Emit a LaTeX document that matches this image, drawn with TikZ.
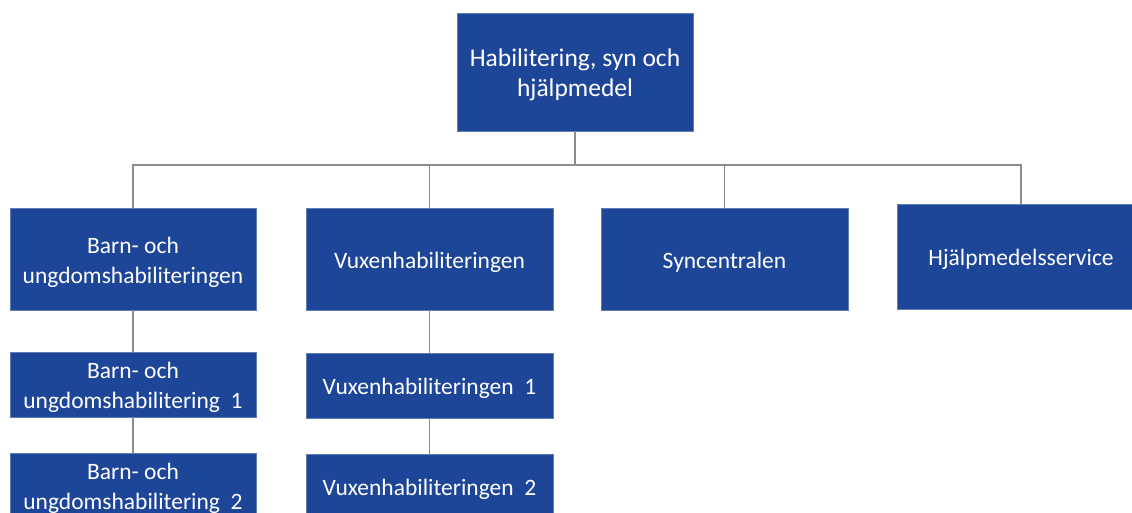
\documentclass[tikz,border=0pt]{standalone}
\usepackage{fontspec}
\setmainfont{Carlito}
\definecolor{boxblue}{HTML}{1D4598}
\definecolor{linegray}{HTML}{8C8C8C}
\begin{document}
\begin{tikzpicture}[x=1pt,y=-1pt,
  orgbox/.style={fill=boxblue,draw=boxblue!70!white,line width=0.6pt,inner sep=0pt},
  orgtext/.style={text=white,align=center,inner sep=0pt,yshift=-3pt,font=\fontsize{23.5}{30}\selectfont},
  conn/.style={draw=linegray,line width=1.5pt}]
\clip (0,0) rectangle (1132,513);
\useasboundingbox (0,0) rectangle (1132,513);
\node[orgbox,minimum width=236pt,minimum height=118pt,label={[orgtext,font=\fontsize{25.5}{30}\selectfont]center:Habilitering, syn och\\hjälpmedel}] (top) at (575,72) {};
\node[orgbox,minimum width=246pt,minimum height=102pt,label={[orgtext]center:Barn- och\\ungdomshabiliteringen}] (b) at (133,259) {};
\node[orgbox,minimum width=247pt,minimum height=102pt,label={[orgtext]center:Vuxenhabiliteringen}] (v) at (429.5,259) {};
\node[orgbox,minimum width=247pt,minimum height=102pt,label={[orgtext]center:Syncentralen}] (s) at (724.5,259) {};
\node[orgbox,minimum width=248pt,minimum height=105pt,label={[orgtext]center:Hjälpmedelsservice}] (h) at (1021,256.5) {};
\node[orgbox,minimum width=246pt,minimum height=65pt,label={[orgtext]center:Barn- och\\ungdomshabilitering\ \ 1}] (b1) at (133,384.5) {};
\node[orgbox,minimum width=246pt,minimum height=65pt,label={[orgtext]center:Barn- och\\ungdomshabilitering\ \ 2}] (b2) at (133,485.5) {};
\node[orgbox,minimum width=247pt,minimum height=65pt,label={[orgtext]center:Vuxenhabiliteringen\ \ 1}] (v1) at (429.5,385.5) {};
\node[orgbox,minimum width=247pt,minimum height=65pt,label={[orgtext]center:Vuxenhabiliteringen\ \ 2}] (v2) at (429.5,486.5) {};
\coordinate (bus) at (0,165);
\draw[conn] (top.south) -- (top.south |- bus);
\draw[conn] (b.north) -- (b.north |- bus) -- (h.north |- bus) -- (h.north);
\draw[conn] (v.north) -- (v.north |- bus);
\draw[conn] (s.north) -- (s.north |- bus);
\draw[conn] (b.south) -- (b1.north);
\draw[conn] (b1.south) -- (b2.north);
\draw[conn] (v.south) -- (v1.north);
\draw[conn] (v1.south) -- (v2.north);
\end{tikzpicture}
\end{document}
